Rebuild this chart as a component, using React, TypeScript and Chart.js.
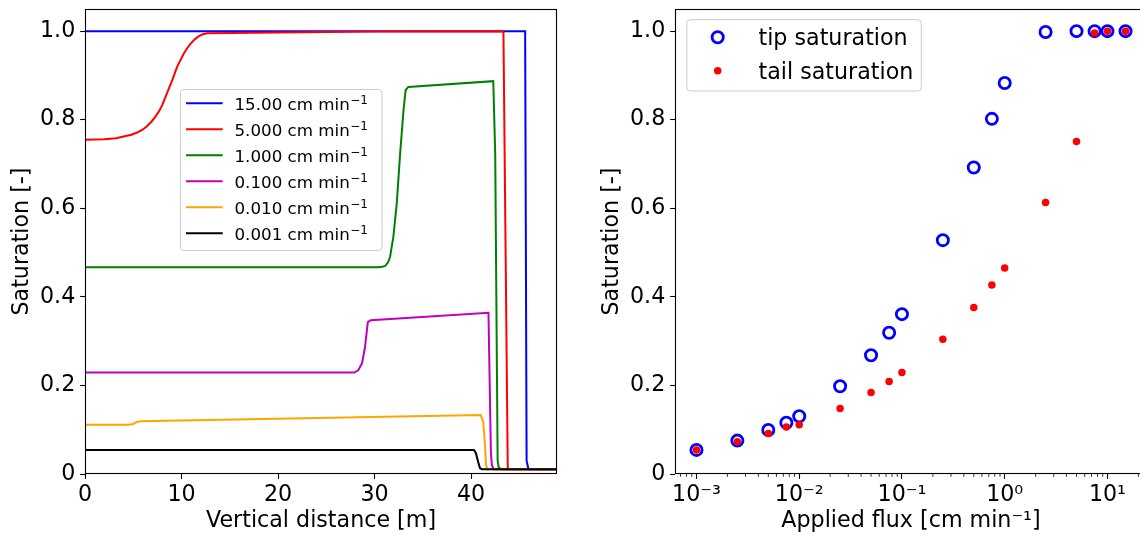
import React, { useEffect, useRef } from "react";
import { Chart, registerables } from "chart.js";

Chart.register(...registerables);

const FONT = '"DejaVu Sans", sans-serif';
Chart.defaults.font.family = FONT;
Chart.defaults.color = "#000000";

// ---------- left panel: saturation profiles ----------
const distanceTicks = [0, 10, 20, 30, 40];
const saturationTicks = [0, 0.2, 0.4, 0.6, 0.8, 1.0];

const profileLabels = [
  "15.00 cm min⁻¹",
  "5.000 cm min⁻¹",
  "1.000 cm min⁻¹",
  "0.100 cm min⁻¹",
  "0.010 cm min⁻¹",
  "0.001 cm min⁻¹",
];
const profileColors = ["#0000ff", "#ff0000", "#008000", "#bf00bf", "#ffa500", "#000000"];

const flux15X = [0, 45.6, 45.75, 45.95, 48.9];
const flux15Y = [1.0, 1.0, 0.03, 0.011, 0.011];

const flux5X = [0, 2.0, 3.2, 4.0, 4.8, 5.4, 6.0, 6.45, 6.9, 7.3, 7.7, 8.0, 8.5, 9.05, 9.55, 10.25, 10.6, 10.95, 11.4, 11.8, 12.2, 12.7, 20.0, 30.0, 43.35, 43.8, 48.9];
const flux5Y = [0.755, 0.756, 0.758, 0.762, 0.766, 0.771, 0.778, 0.786, 0.796, 0.807, 0.82, 0.833, 0.86, 0.89, 0.92, 0.95, 0.962, 0.972, 0.982, 0.989, 0.993, 0.995, 0.997, 0.999, 1.0, 0.011, 0.011];

const flux1X = [0, 30.3, 30.8, 31.1, 31.4, 31.6, 31.95, 32.3, 32.65, 33.0, 33.22, 33.5, 42.3, 42.5, 42.75, 42.85, 43.1, 48.9];
const flux1Y = [0.467, 0.467, 0.468, 0.47, 0.478, 0.49, 0.536, 0.611, 0.724, 0.822, 0.867, 0.874, 0.887, 0.72, 0.03, 0.016, 0.011, 0.011];

const flux01X = [0, 27.9, 28.3, 28.7, 29.0, 29.3, 29.6, 41.8, 42.05, 42.15, 42.35, 48.9];
const flux01Y = [0.229, 0.229, 0.234, 0.25, 0.285, 0.343, 0.347, 0.364, 0.05, 0.02, 0.011, 0.011];

const flux001X = [0, 4.5, 5.0, 5.3, 5.7, 41.0, 41.25, 41.45, 41.55, 41.7, 48.9];
const flux001Y = [0.111, 0.111, 0.113, 0.117, 0.119, 0.133, 0.118, 0.062, 0.02, 0.011, 0.011];

const flux0001X = [0, 40.3, 40.5, 40.72, 40.92, 41.13, 48.9];
const flux0001Y = [0.054, 0.054, 0.047, 0.028, 0.013, 0.011, 0.011];

const profileXs = [flux15X, flux5X, flux1X, flux01X, flux001X, flux0001X];
const profileYs = [flux15Y, flux5Y, flux1Y, flux01Y, flux001Y, flux0001Y];

// ---------- right panel: tip / tail saturation ----------
const fluxValues = [0.001, 0.0025, 0.005, 0.0075, 0.01, 0.025, 0.05, 0.075, 0.1, 0.25, 0.5, 0.75, 1, 2.5, 5, 7.5, 10, 15];
const tipSaturation = [0.0544, 0.0754, 0.0995, 0.1158, 0.1305, 0.198, 0.268, 0.319, 0.361, 0.528, 0.692, 0.802, 0.883, 0.998, 1.0, 1.0, 1.0, 1.0];
const tailSaturation = [0.0544, 0.073, 0.0917, 0.106, 0.111, 0.148, 0.184, 0.209, 0.229, 0.304, 0.376, 0.427, 0.465, 0.613, 0.751, 0.996, 1.0, 1.0];
const fluxTicks = [0.001, 0.01, 0.1, 1, 10];
const fluxTickLabels = ["10⁻³", "10⁻²", "10⁻¹", "10⁰", "10¹"];

const TICK_SIZE = 22.2;
const TICK_LEN = 4.86;

const framePlugin = {
  id: "frame",
  afterDraw(chart: any) {
    const { ctx, chartArea } = chart;
    const l = Math.round(chartArea.left) + 0.5;
    const t = Math.round(chartArea.top) + 0.5;
    const r = Math.round(chartArea.right) - 0.5;
    const b = Math.round(chartArea.bottom) - 0.5;
    ctx.save();
    ctx.strokeStyle = "#000";
    ctx.lineWidth = 1.1;
    ctx.strokeRect(l, t, r - l, b - t);
    ctx.restore();
  },
};

function roundRectPath(ctx: CanvasRenderingContext2D, x: number, y: number, w: number, h: number, r: number) {
  ctx.beginPath();
  ctx.moveTo(x + r, y);
  ctx.lineTo(x + w - r, y);
  ctx.arcTo(x + w, y, x + w, y + r, r);
  ctx.lineTo(x + w, y + h - r);
  ctx.arcTo(x + w, y + h, x + w - r, y + h, r);
  ctx.lineTo(x + r, y + h);
  ctx.arcTo(x, y + h, x, y + h - r, r);
  ctx.lineTo(x, y + r);
  ctx.arcTo(x, y, x + r, y, r);
  ctx.closePath();
}

// draws "… min⁻¹" with a mathtext-like raised superscript
function drawSupLabel(ctx: CanvasRenderingContext2D, label: string, x: number, y: number, size: number) {
  const parts = label.split("⁻¹");
  ctx.font = `${size}px ${FONT}`;
  ctx.fillText(parts[0], x, y);
  if (parts.length > 1) {
    const w = ctx.measureText(parts[0]).width;
    ctx.font = `${size * 0.72}px ${FONT}`;
    ctx.fillText("−1", x + w + 0.5, y - size * 0.36);
    ctx.font = `${size}px ${FONT}`;
  }
}

const profileLegendPlugin = {
  id: "profileLegend",
  afterDraw(chart: any) {
    const ctx: CanvasRenderingContext2D = chart.ctx;
    ctx.save();
    roundRectPath(ctx, 180.5, 89.5, 201.5, 161, 3.5);
    ctx.fillStyle = "rgba(255,255,255,0.8)";
    ctx.fill();
    ctx.strokeStyle = "#cccccc";
    ctx.lineWidth = 1;
    ctx.stroke();
    ctx.textBaseline = "alphabetic";
    ctx.textAlign = "left";
    chart.data.datasets.forEach((ds: any, i: number) => {
      const y = 103.3 + i * 26;
      ctx.strokeStyle = ds.borderColor;
      ctx.lineWidth = 2;
      ctx.beginPath();
      ctx.moveTo(186, y);
      ctx.lineTo(222.7, y);
      ctx.stroke();
      ctx.fillStyle = "#000";
      drawSupLabel(ctx, ds.label, 234.5, y + 7, 16.7);
    });
    ctx.restore();
  },
};

const minorTickPlugin = {
  id: "minorTicks",
  afterDraw(chart: any) {
    const xs = chart.scales.x;
    const { ctx, chartArea } = chart;
    ctx.save();
    ctx.strokeStyle = "#000";
    ctx.lineWidth = 0.83;
    for (let e = -4; e <= 1; e++) {
      for (let k = 2; k <= 9; k++) {
        const v = k * Math.pow(10, e);
        if (v < xs.min || v > xs.max) continue;
        const px = xs.getPixelForValue(v);
        ctx.beginPath();
        ctx.moveTo(px, chartArea.bottom);
        ctx.lineTo(px, chartArea.bottom + 2.78);
        ctx.stroke();
      }
    }
    ctx.restore();
  },
};

const saturationLegendPlugin = {
  id: "saturationLegend",
  afterDraw(chart: any) {
    const ctx: CanvasRenderingContext2D = chart.ctx;
    const ds = chart.data.datasets;
    ctx.save();
    roundRectPath(ctx, 96.8, 19.7, 234.5, 71.3, 3.5);
    ctx.fillStyle = "rgba(255,255,255,0.8)";
    ctx.fill();
    ctx.strokeStyle = "#cccccc";
    ctx.lineWidth = 1;
    ctx.stroke();
    ctx.font = `22.2px ${FONT}`;
    ctx.textBaseline = "alphabetic";
    ctx.textAlign = "left";
    const rows = [37.3, 70.7];
    ctx.beginPath();
    ctx.arc(127.7, rows[0], ds[0].pointRadius, 0, Math.PI * 2);
    ctx.strokeStyle = ds[0].pointBorderColor;
    ctx.lineWidth = ds[0].pointBorderWidth;
    ctx.stroke();
    ctx.beginPath();
    ctx.arc(127.7, rows[1], ds[1].pointRadius, 0, Math.PI * 2);
    ctx.fillStyle = ds[1].pointBackgroundColor;
    ctx.fill();
    ctx.fillStyle = "#000";
    ctx.fillText(ds[0].label, 168.5, rows[0] + 8);
    ctx.fillText(ds[1].label, 168.5, rows[1] + 8);
    ctx.restore();
  },
};

function yAxis() {
  return {
    type: "linear",
    min: 0,
    max: 1.05,
    bounds: "data",
    afterBuildTicks: (s: any) => {
      s.ticks = saturationTicks.map((v) => ({ value: v }));
    },
    afterFit: (s: any) => {
      s.width = 85;
    },
    grid: {
      display: true,
      drawOnChartArea: false,
      drawTicks: true,
      tickLength: TICK_LEN,
      tickWidth: 1.1,
      tickColor: "#000",
    },
    border: { display: false },
    ticks: {
      color: "#000",
      font: { size: TICK_SIZE, lineHeight: 0.3 },
      padding: 4.86,
      autoSkip: false,
      callback: (v: any) => (Number(v) === 0 ? "0" : Number(v).toFixed(1)),
    },
    title: {
      display: true,
      text: "Saturation [-]",
      color: "#000",
      font: { size: TICK_SIZE },
      padding: { top: 8.5, bottom: 0 },
    },
  };
}

function xTickGrid() {
  return {
    display: true,
    drawOnChartArea: false,
    drawTicks: true,
    tickLength: TICK_LEN,
    tickWidth: 1.1,
    tickColor: "#000",
  };
}

export default function App() {
  const leftRef = useRef<HTMLCanvasElement | null>(null);
  const rightRef = useRef<HTMLCanvasElement | null>(null);

  useEffect(() => {
    const left = new Chart(leftRef.current as HTMLCanvasElement, {
      type: "line",
      data: {
        datasets: profileLabels.map((label, i) => ({
          label,
          data: profileXs[i].map((x, j) => ({ x, y: profileYs[i][j] })),
          borderColor: profileColors[i],
          backgroundColor: profileColors[i],
          borderWidth: 2,
          pointRadius: 0,
          fill: false,
          tension: 0,
          order: profileLabels.length - 1 - i,
        })),
      },
      options: {
        responsive: false,
        devicePixelRatio: 1,
        animation: false,
        events: [],
        layout: { padding: { top: 9, right: 13, bottom: 0, left: 0 } },
        plugins: { legend: { display: false }, tooltip: { enabled: false } },
        scales: {
          x: {
            type: "linear",
            min: 0,
            max: 48.9,
            bounds: "data",
            afterBuildTicks: (s: any) => {
              s.ticks = distanceTicks.map((v) => ({ value: v }));
            },
            afterFit: (s: any) => {
              s.height = 66;
            },
            grid: xTickGrid(),
            border: { display: false },
            ticks: {
              color: "#000",
              font: { size: TICK_SIZE },
              padding: 3,
              maxRotation: 0,
              autoSkip: false,
              callback: (v: any) => String(v),
            },
            title: {
              display: true,
              text: "Vertical distance [m]",
              color: "#000",
              font: { size: TICK_SIZE },
              padding: { top: 0, bottom: 5 },
            },
          },
          y: yAxis(),
        },
      } as any,
      plugins: [framePlugin, profileLegendPlugin],
    } as any);

    const right = new Chart(rightRef.current as HTMLCanvasElement, {
      type: "scatter",
      data: {
        datasets: [
          {
            label: "tip saturation",
            data: fluxValues.map((x, i) => ({ x, y: tipSaturation[i] })),
            pointRadius: 5.6,
            pointBorderWidth: 2.8,
            pointBorderColor: "#0000ff",
            pointBackgroundColor: "rgba(0,0,0,0)",
            borderColor: "#0000ff",
            backgroundColor: "rgba(0,0,0,0)",
            showLine: false,
            order: 1,
          },
          {
            label: "tail saturation",
            data: fluxValues.map((x, i) => ({ x, y: tailSaturation[i] })),
            pointRadius: 3.75,
            pointBorderWidth: 0,
            pointBorderColor: "#ff0000",
            pointBackgroundColor: "#ff0000",
            borderColor: "#ff0000",
            backgroundColor: "#ff0000",
            showLine: false,
            order: 0,
          },
        ],
      },
      options: {
        responsive: false,
        devicePixelRatio: 1,
        animation: false,
        events: [],
        layout: { padding: { top: 9, right: 13, bottom: 0, left: 0 } },
        plugins: { legend: { display: false }, tooltip: { enabled: false } },
        scales: {
          x: {
            type: "logarithmic",
            min: Math.pow(10, -3.209),
            max: Math.pow(10, 1.385),
            bounds: "data",
            afterBuildTicks: (s: any) => {
              s.ticks = fluxTicks.map((v) => ({ value: v, major: true }));
            },
            afterFit: (s: any) => {
              s.height = 66;
            },
            grid: xTickGrid(),
            border: { display: false },
            ticks: {
              color: "#000",
              font: { size: TICK_SIZE },
              padding: 3,
              maxRotation: 0,
              autoSkip: false,
              callback: (v: any) => {
                const idx = fluxTicks.findIndex((t) => Math.abs(Math.log10(t) - Math.log10(Number(v))) < 1e-6);
                return idx >= 0 ? fluxTickLabels[idx] : "";
              },
            },
            title: {
              display: true,
              text: "Applied flux [cm min⁻¹]",
              color: "#000",
              font: { size: TICK_SIZE },
              padding: { top: 0, bottom: 5 },
            },
          },
          y: yAxis(),
        },
      } as any,
      plugins: [framePlugin, minorTickPlugin, saturationLegendPlugin],
    } as any);

    return () => {
      left.destroy();
      right.destroy();
    };
  }, []);

  return (
    <div
      style={{
        position: "absolute",
        left: 0,
        top: 0,
        width: 1140,
        height: 540,
        overflow: "hidden",
        background: "#ffffff",
      }}
    >
      <canvas
        ref={leftRef}
        width={570}
        height={540}
        style={{ position: "absolute", left: 0, top: 0, width: 570, height: 540, display: "block" }}
      />
      <canvas
        ref={rightRef}
        width={570}
        height={540}
        style={{ position: "absolute", left: 590, top: 0, width: 570, height: 540, display: "block" }}
      />
    </div>
  );
}
